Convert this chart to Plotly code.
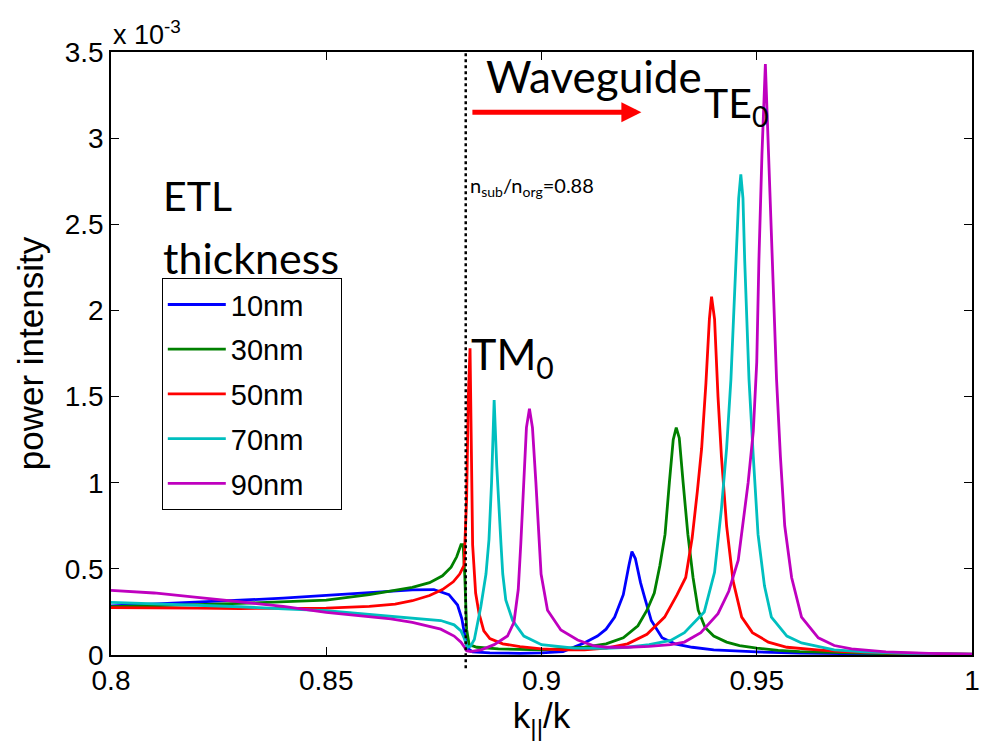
import plotly.graph_objects as go

# ---------------- data (power intensity in units of 1e-3) ----------------
labels = ["10nm", "30nm", "50nm", "70nm", "90nm"]
colors = ["#0000FF", "#008000", "#FF0000", "#00BFBF", "#BF00BF"]

x_10 = [0.800, 0.810, 0.820, 0.830, 0.840, 0.850, 0.860, 0.866, 0.870, 0.875, 0.8785, 0.8805,
        0.8815, 0.8822, 0.8828, 0.884, 0.888, 0.895, 0.900, 0.905, 0.9099, 0.913, 0.915, 0.917,
        0.919, 0.9203, 0.921, 0.9218, 0.923, 0.924, 0.9255, 0.928, 0.931, 0.935, 0.940, 0.945,
        0.950, 0.960, 0.970, 0.980, 0.990, 1.000]
y_10 = [0.285, 0.295, 0.305, 0.318, 0.330, 0.345, 0.362, 0.372, 0.378, 0.380, 0.350, 0.290,
        0.210, 0.110, 0.040, 0.018, 0.012, 0.010, 0.012, 0.020, 0.070, 0.110, 0.150, 0.220,
        0.350, 0.520, 0.600, 0.560, 0.420, 0.330, 0.200, 0.100, 0.065, 0.045, 0.030, 0.024,
        0.018, 0.011, 0.007, 0.005, 0.004, 0.003]

x_30 = [0.800, 0.810, 0.820, 0.830, 0.840, 0.850, 0.860, 0.866, 0.870, 0.874, 0.877, 0.879,
        0.8803, 0.8813, 0.8818, 0.8822, 0.8826, 0.8832, 0.885, 0.890, 0.900, 0.910, 0.915,
        0.919, 0.9224, 0.9245, 0.9262, 0.9275, 0.9287, 0.9297, 0.9306, 0.9313, 0.9320, 0.9329,
        0.9340, 0.9352, 0.9364, 0.938, 0.940, 0.943, 0.946, 0.950, 0.955, 0.960, 0.970, 0.980,
        0.990, 1.000]
y_30 = [0.280, 0.285, 0.292, 0.300, 0.308, 0.318, 0.350, 0.375, 0.392, 0.420, 0.460, 0.510,
        0.570, 0.640, 0.640, 0.450, 0.150, 0.060, 0.045, 0.035, 0.030, 0.045, 0.065,
        0.100, 0.170, 0.260, 0.360, 0.520, 0.700, 1.000, 1.250, 1.320, 1.260, 1.000,
        0.700, 0.450, 0.260, 0.160, 0.110, 0.075, 0.055, 0.040, 0.027, 0.020, 0.012, 0.008,
        0.006, 0.004]

x_50 = [0.800, 0.810, 0.820, 0.830, 0.840, 0.850, 0.860, 0.866, 0.870, 0.874, 0.877, 0.8795,
        0.8810, 0.8820, 0.8826, 0.8830, 0.8834, 0.8837, 0.8840, 0.8847, 0.8855, 0.8866, 0.888,
        0.891, 0.895, 0.900, 0.905, 0.910, 0.915, 0.920, 0.9245, 0.9286, 0.9315, 0.9335, 0.9350,
        0.9362, 0.9372, 0.9382, 0.9390, 0.9395, 0.9402, 0.9410, 0.9418, 0.9430, 0.9445, 0.9465,
        0.9490, 0.9527, 0.9570, 0.9640, 0.970, 0.980, 0.990, 1.000]
y_50 = [0.275, 0.275, 0.272, 0.270, 0.270, 0.272, 0.282, 0.295, 0.315, 0.345, 0.380, 0.425,
        0.470, 0.520, 0.900, 1.500, 1.780, 1.300, 0.640, 0.360, 0.240, 0.140, 0.095,
        0.065, 0.048, 0.035, 0.030, 0.030, 0.040, 0.065, 0.120, 0.220, 0.350, 0.450, 0.680,
        0.950, 1.200, 1.580, 1.950, 2.080, 1.950, 1.500, 1.150, 0.750, 0.430, 0.220,
        0.130, 0.075, 0.045, 0.030, 0.020, 0.012, 0.008, 0.005]

x_70 = [0.800, 0.810, 0.820, 0.830, 0.840, 0.850, 0.860, 0.870, 0.8766, 0.8797, 0.8813, 0.8820,
        0.8828, 0.8835, 0.8844, 0.8859, 0.8871, 0.8878, 0.8884, 0.8890, 0.8896, 0.8906, 0.8910,
        0.8917, 0.8933, 0.8959, 0.9000, 0.9076, 0.915, 0.920, 0.925, 0.930, 0.9332, 0.9378,
        0.9402, 0.9418, 0.9430, 0.9440, 0.9451, 0.9458, 0.9463, 0.9468, 0.9472, 0.9482, 0.9492,
        0.9503, 0.9518, 0.9534, 0.9570, 0.9604, 0.9680, 0.975, 0.985, 1.000]
y_70 = [0.305, 0.298, 0.290, 0.280, 0.268, 0.258, 0.235, 0.215, 0.200, 0.175, 0.140, 0.100,
        0.045, 0.050, 0.090, 0.280, 0.470, 0.670, 1.000, 1.480, 1.100, 0.640, 0.470,
        0.320, 0.200, 0.110, 0.060, 0.040, 0.038, 0.045, 0.060, 0.085, 0.130, 0.250,
        0.480, 0.850, 1.200, 1.600, 2.290, 2.650, 2.790, 2.650, 2.290, 1.600, 1.150,
        0.700, 0.400, 0.220, 0.110, 0.070, 0.030, 0.018, 0.010, 0.005]

x_90 = [0.800, 0.810, 0.820, 0.830, 0.840, 0.850, 0.860, 0.865, 0.870, 0.8766, 0.8797, 0.8813,
        0.8820, 0.8826, 0.8835, 0.886, 0.889, 0.8921, 0.8936, 0.8946, 0.8952, 0.8958, 0.8965,
        0.8972, 0.8979, 0.8987, 0.8995, 0.8999, 0.9014, 0.9045, 0.9084, 0.912, 0.915, 0.920,
        0.925, 0.930, 0.9332, 0.937, 0.941, 0.9435, 0.9457, 0.9472, 0.9480, 0.9492, 0.9500,
        0.9505, 0.9512, 0.9520, 0.9528, 0.9536, 0.9546, 0.9555, 0.9565, 0.9581, 0.9604, 0.9643,
        0.968, 0.972, 0.980, 0.990, 1.000]
y_90 = [0.375, 0.360, 0.335, 0.310, 0.282, 0.248, 0.225, 0.210, 0.190, 0.150, 0.110, 0.075,
        0.050, 0.025, 0.020, 0.030, 0.060, 0.110, 0.190, 0.380, 0.650, 1.000, 1.320,
        1.430, 1.320, 1.000, 0.650, 0.470, 0.260, 0.145, 0.087, 0.055, 0.045, 0.045,
        0.050, 0.060, 0.075, 0.130, 0.240, 0.370, 0.550, 0.850, 1.000, 1.300, 1.700,
        2.290, 2.900, 3.430, 2.900, 2.290, 1.600, 1.150, 0.750, 0.450, 0.220, 0.100,
        0.055, 0.035, 0.018, 0.009, 0.005]

series_x = [x_10, x_30, x_50, x_70, x_90]
series_y = [y_10, y_30, y_50, y_70, y_90]

light_line_x = 0.8824          # n_sub / n_org position (dotted line)
y_ticks = [0, 0.5, 1, 1.5, 2, 2.5, 3, 3.5]
y_tick_text = ["0", "0.5", "1", "1.5", "2", "2.5", "3", "3.5"]
x_ticks = [0.8, 0.85, 0.9, 0.95, 1.0]
x_tick_text = ["0.8", "0.85", "0.9", "0.95", "1"]

ARIAL = "Liberation Sans, Arial, sans-serif"
CALIBRI = "Lato, Carlito, Calibri, sans-serif"

fig = go.Figure()
for i, (xs, ys) in enumerate(zip(series_x, series_y)):
    fig.add_trace(go.Scatter(
        x=xs, y=ys, mode="lines", name=labels[i] + "\u00a0\u00a0\u00a0\u00a0",
        line=dict(color=colors[i], width=2.8),
        legendgroup="g%d" % i,
    ))

fig.add_shape(type="line", xref="x", yref="paper", x0=light_line_x, x1=light_line_x,
              y0=-0.022, y1=1.0, line=dict(color="black", width=2.5, dash="dot"))

annos = [
    dict(text="Waveguide", x=0.8866, y=3.36, size=44),
    dict(text="TE<sub>0</sub>", x=0.9372, y=3.19, size=41),
    dict(text="TM<sub>0</sub>", x=0.8832, y=1.73, size=43),
    dict(text="n<sub>sub</sub>/n<sub>org</sub>=0.88", x=0.8830, y=2.72, size=20),
    dict(text="ETL", x=0.8117, y=2.67, size=41),
    dict(text="thickness", x=0.8117, y=2.31, size=43),
]
for a in annos:
    fig.add_annotation(text=a["text"], x=a["x"], y=a["y"], showarrow=False, xref="x",
                       yref="y", xanchor="left", yanchor="middle",
                       font=dict(family=CALIBRI, size=a["size"], color="black"))

fig.add_annotation(text="x 10<sup>-3</sup>", xref="paper", yref="paper", x=0.0, y=1.0,
                   xanchor="left", yanchor="bottom", showarrow=False,
                   font=dict(family=ARIAL, size=27, color="black"))

# red arrow
fig.add_annotation(x=0.9232, y=3.15, ax=0.8836, ay=3.15, xref="x", yref="y", axref="x",
                   ayref="y", text="", showarrow=True, arrowhead=2, arrowsize=0.8,
                   arrowwidth=5, arrowcolor="#FF0000")

fig.update_layout(
    width=984, height=746,
    margin=dict(l=111, r=12, t=52, b=91, autoexpand=False),
    paper_bgcolor="white", plot_bgcolor="white",
    showlegend=True,
    legend=dict(x=0.059, y=0.625, xanchor="left", yanchor="top",
                bgcolor="white", bordercolor="black", borderwidth=1,
                font=dict(family=ARIAL, size=29, color="black"),
                itemwidth=58, tracegroupgap=4),
    xaxis=dict(range=[0.8, 1.0], tickvals=x_ticks, ticktext=x_tick_text, automargin=False,
               showgrid=False, zeroline=False, showline=True, linecolor="black",
               linewidth=1.5, mirror="ticks", ticks="inside", ticklen=8,
               tickcolor="black", tickfont=dict(family=ARIAL, size=28, color="black"),
               title=dict(text="k<sub>||</sub>/k", font=dict(family=ARIAL, size=35, color="black"),
                          standoff=6)),
    yaxis=dict(range=[0, 3.5], tickvals=y_ticks, ticktext=y_tick_text, automargin=False,
               showgrid=False, zeroline=False, showline=True, linecolor="black",
               linewidth=1.5, mirror="ticks", ticks="inside", ticklen=8,
               tickcolor="black", tickfont=dict(family=ARIAL, size=28, color="black"),
               title=dict(text="power intensity", font=dict(family=ARIAL, size=35, color="black"),
                          standoff=10)),
)

fig.write_html("out.html")
